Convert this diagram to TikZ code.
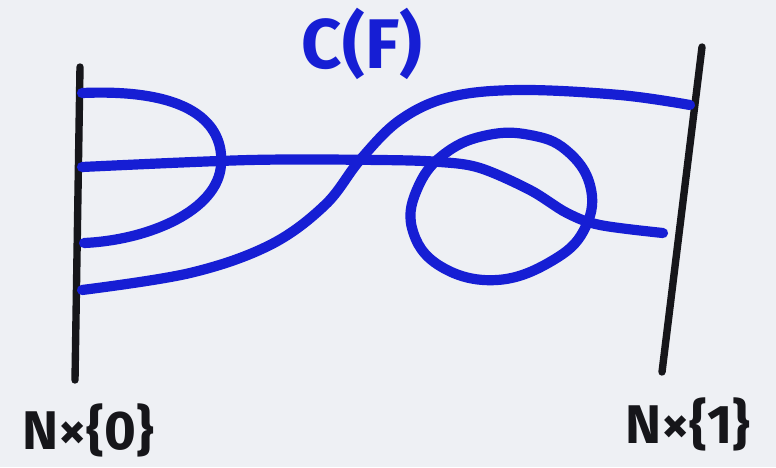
\documentclass[tikz,border=0pt]{standalone}
\usepackage{fontspec}
\setmainfont{Fira Sans}
\usepackage{xcolor}
\usetikzlibrary{positioning,calc}
\definecolor{markerblue}{RGB}{22,30,212}
\definecolor{markerblack}{RGB}{22,22,26}
\definecolor{boardwhite}{RGB}{238,240,244}

\begin{document}
\begin{tikzpicture}[
    x=0.02cm,
    y=-0.02cm,
    boundary/.style={draw=markerblack, line width=4.2pt, line cap=round},
    strand/.style={draw=markerblue, line width=5.8pt, line cap=round, line join=round},
    endlabel/.style={text=markerblack, font=\bfseries\fontsize{31}{33}\selectfont, inner sep=0pt},
    titlelabel/.style={text=markerblue, font=\bfseries\fontsize{40}{42}\selectfont, inner sep=0pt}
]
\fill[boardwhite] (0,0) rectangle (776,467);
\useasboundingbox (0,0) rectangle (776,467);
% the two ends N x {0} and N x {1}
\coordinate (l0) at (80,67);
\coordinate (l1) at (75,380);
\coordinate (r0) at (702,47);
\coordinate (r1) at (662,372);
\draw[boundary] (l0) -- (l1);
\draw[boundary] (r0) -- (r1);
% cap on the left end
\draw[strand] (82,93) .. controls (200,88) and (224,130) .. (221,165)
    .. controls (218,210) and (150,240) .. (84,243);
% straight strand, bent under the loop
\draw[strand] plot[smooth, tension=0.55] coordinates {(82,167) (250,160) (380,160) (440,162) (480,168) (530,190) (567,213) (600,225) (663,233)};
% crossing strand
\draw[strand] plot[smooth, tension=0.6] coordinates {(82,290) (190,273) (270,245) (325,205) (360,160) (400,120) (450,97) (520,90) (620,95) (690,105)};
% closed loop
\draw[strand] plot[smooth cycle, tension=0.7] coordinates {(488,135) (530,135) (566,150) (590,185) (586,226) (555,259) (497,280) (440,266) (412,228) (419,185) (447,152)};
% labels
\node[titlelabel] (title) at (362,44) {C(F)};
\node[endlabel] (end0) at (88,430) {N×\{0\}};
\node[endlabel] (end1) at (688,424) {N×\{1\}};
\end{tikzpicture}
\end{document}
